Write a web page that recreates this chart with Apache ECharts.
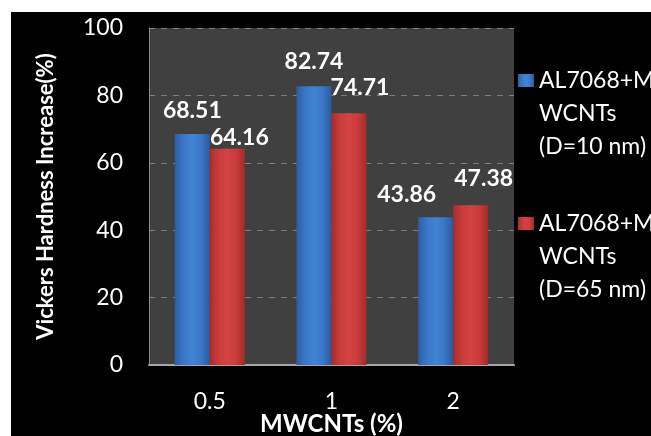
<!DOCTYPE html>
<html>
<head>
<meta charset="utf-8">
<script src="https://cdn.jsdelivr.net/npm/echarts@6/dist/echarts.min.js"></script>
<style>
  html, body { margin: 0; padding: 0; background: #ffffff; }
  #chart { position: absolute; left: 11px; top: 12px; width: 640px; height: 424px; background: #000000; }
</style>
</head>
<body>
<div id="chart"></div>
<script>
// Hardness increase for two MWCNT diameters at three loadings
const categories = ['0.5', '1', '2'];
const seriesNames = ['AL7068+MWCNTs (D=10 nm)', 'AL7068+MWCNTs (D=65 nm)'];
const hardnessD10 = [68.51, 82.74, 43.86];
const hardnessD65 = [64.16, 74.71, 47.38];
const yTicks = { min: 0, max: 100, step: 20 };

const FONT = 'Lato, "Open Sans", sans-serif';

// cylinder-like shading across each bar
function shade(stops) {
  return new echarts.graphic.LinearGradient(0, 0, 1, 0,
    stops.map((c, i) => ({ offset: i / (stops.length - 1), color: c })));
}
const blueFill = shade(['#2c5ea3', '#3a77c8', '#4183d4', '#3a77c8', '#2b5a9c']);
const redFill = shade(['#a52d2d', '#cb3b3b', '#d44343', '#cb3b3b', '#a22a2a']);

// label nudges so neighbouring values do not collide
const labelShift = {
  d10: [[0, -7], [0, -8], [-29, -6]],
  d65: [[12, 5], [11, -9], [13, -10]]
};

function barData(values, shifts) {
  return values.map((v, i) => ({ value: v, label: { offset: shifts[i] } }));
}

const chart = echarts.init(document.getElementById('chart'), null, { renderer: 'canvas' });

chart.setOption({
  backgroundColor: '#000000',
  animation: false,
  textStyle: { fontFamily: FONT },
  grid: {
    left: 138, right: 137, top: 16, bottom: 71,
    outerBoundsMode: 'none',
    containLabel: false,
    show: true, backgroundColor: '#404040', borderWidth: 0
  },
  legend: {
    orient: 'vertical',
    left: 502, top: 47,
    itemWidth: 16, itemHeight: 99, itemGap: 44,
    icon: 'path://M0,10L16,10L16,23L0,23Z M0,0L0,0 M16,99L16,99',
    data: seriesNames,
    formatter: n => n.slice(0, 8) + '\n' + n.slice(8).replace(' ', '\n'),
    textStyle: { color: '#ffffff', fontFamily: FONT, fontSize: 23, lineHeight: 33 }
  },
  xAxis: {
    type: 'category',
    data: categories,
    name: 'MWCNTs (%)',
    nameLocation: 'middle',
    nameGap: 47,
    nameMoveOverlap: false,
    nameTextStyle: { color: '#ffffff', fontFamily: FONT, fontWeight: 'bold', fontSize: 24 },
    axisLine: { show: true, lineStyle: { color: '#a6a6a6', width: 2 } },
    axisTick: { show: false },
    axisLabel: { color: '#ffffff', fontFamily: FONT, fontSize: 23, margin: 25 }
  },
  yAxis: {
    type: 'value',
    min: yTicks.min, max: yTicks.max, interval: yTicks.step,
    name: 'Vickers Hardness Increase(%)',
    nameLocation: 'middle',
    nameGap: 92,
    nameMoveOverlap: false,
    nameTextStyle: { color: '#ffffff', fontFamily: FONT, fontWeight: 'bold', fontSize: 22 },
    axisLine: { show: true, lineStyle: { color: '#8c8c8c', width: 1 } },
    axisTick: { show: false },
    axisLabel: { color: '#ffffff', fontFamily: FONT, fontSize: 23, margin: 26 },
    splitLine: { show: true, lineStyle: { color: '#7a7a7a', type: [6, 6], width: 1 } }
  },
  series: [
    {
      name: seriesNames[0],
      type: 'bar',
      barWidth: 35,
      barGap: '0%',
      itemStyle: { color: blueFill },
      label: {
        show: true, position: 'top', distance: 5,
        color: '#ffffff', fontFamily: FONT, fontWeight: 'bold', fontSize: 23
      },
      data: barData(hardnessD10, labelShift.d10)
    },
    {
      name: seriesNames[1],
      type: 'bar',
      barWidth: 35,
      barGap: '0%',
      itemStyle: { color: redFill },
      label: {
        show: true, position: 'top', distance: 5,
        color: '#ffffff', fontFamily: FONT, fontWeight: 'bold', fontSize: 23
      },
      data: barData(hardnessD65, labelShift.d65)
    }
  ]
});
</script>
</body>
</html>
